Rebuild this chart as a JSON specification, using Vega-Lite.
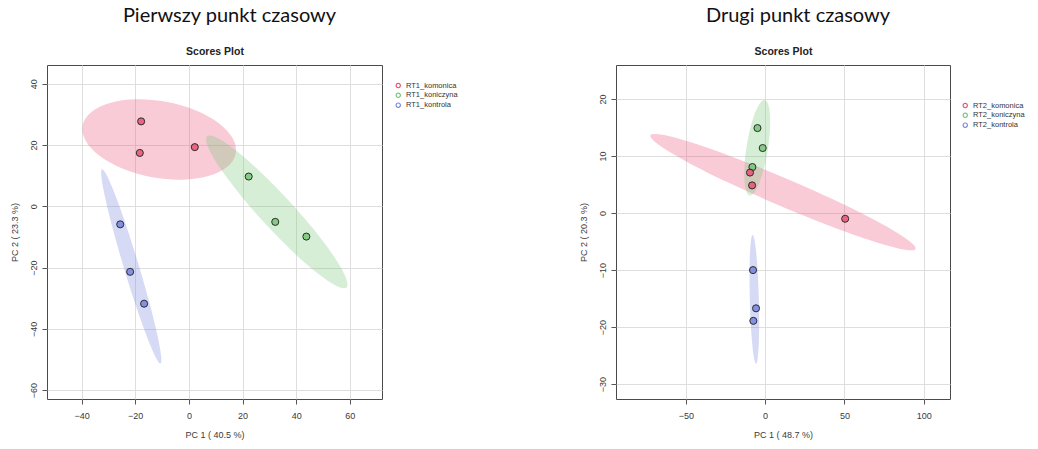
{
  "$schema": "https://vega.github.io/schema/vega-lite/v6.json",
  "background": "white",
  "padding": {"left": 9, "top": 5, "right": 0, "bottom": 0},
  "datasets": {
    "ell1": [
      {"g":"RT1_komonica","i":0,"x":17.48,"y":17.23},{"g":"RT1_komonica","i":1,"x":16.29,"y":22.29},{"g":"RT1_komonica","i":2,"x":10.94,"y":27.28},{"g":"RT1_komonica","i":3,"x":2.23,"y":31.43},
      {"g":"RT1_komonica","i":4,"x":-8.5,"y":34.11},{"g":"RT1_komonica","i":5,"x":-19.62,"y":34.92},{"g":"RT1_komonica","i":6,"x":-29.44,"y":33.73},{"g":"RT1_komonica","i":7,"x":-36.46,"y":30.72},
      {"g":"RT1_komonica","i":8,"x":-39.62,"y":26.35},{"g":"RT1_komonica","i":9,"x":-38.43,"y":21.29},{"g":"RT1_komonica","i":10,"x":-33.08,"y":16.3},{"g":"RT1_komonica","i":11,"x":-24.37,"y":12.15},
      {"g":"RT1_komonica","i":12,"x":-13.64,"y":9.47},{"g":"RT1_komonica","i":13,"x":-2.52,"y":8.66},{"g":"RT1_komonica","i":14,"x":7.3,"y":9.86},{"g":"RT1_komonica","i":15,"x":14.32,"y":12.86},
      {"g":"RT1_koniczyna","i":0,"x":58.77,"y":-26.53},{"g":"RT1_koniczyna","i":1,"x":58.52,"y":-23.26},{"g":"RT1_koniczyna","i":2,"x":54.34,"y":-16.72},{"g":"RT1_koniczyna","i":3,"x":46.89,"y":-7.92},
      {"g":"RT1_koniczyna","i":4,"x":37.28,"y":1.8},{"g":"RT1_koniczyna","i":5,"x":26.99,"y":10.97},{"g":"RT1_koniczyna","i":6,"x":17.57,"y":18.18},{"g":"RT1_koniczyna","i":7,"x":10.48,"y":22.35},
      {"g":"RT1_koniczyna","i":8,"x":6.77,"y":22.83},{"g":"RT1_koniczyna","i":9,"x":7.02,"y":19.56},{"g":"RT1_koniczyna","i":10,"x":11.2,"y":13.02},{"g":"RT1_koniczyna","i":11,"x":18.65,"y":4.22},
      {"g":"RT1_koniczyna","i":12,"x":28.26,"y":-5.5},{"g":"RT1_koniczyna","i":13,"x":38.55,"y":-14.67},{"g":"RT1_koniczyna","i":14,"x":47.97,"y":-21.88},{"g":"RT1_koniczyna","i":15,"x":55.07,"y":-26.05},
      {"g":"RT1_kontrola","i":0,"x":-10.58,"y":-51.34},{"g":"RT1_kontrola","i":1,"x":-10.38,"y":-48.66},{"g":"RT1_kontrola","i":2,"x":-11.88,"y":-41.55},{"g":"RT1_kontrola","i":3,"x":-14.83,"y":-31.11},
      {"g":"RT1_kontrola","i":4,"x":-18.8,"y":-18.92},{"g":"RT1_kontrola","i":5,"x":-23.18,"y":-6.83},{"g":"RT1_kontrola","i":6,"x":-27.29,"y":3.3},{"g":"RT1_kontrola","i":7,"x":-30.52,"y":9.95},
      {"g":"RT1_kontrola","i":8,"x":-32.38,"y":12.1},{"g":"RT1_kontrola","i":9,"x":-32.58,"y":9.42},{"g":"RT1_kontrola","i":10,"x":-31.08,"y":2.31},{"g":"RT1_kontrola","i":11,"x":-28.13,"y":-8.13},
      {"g":"RT1_kontrola","i":12,"x":-24.16,"y":-20.32},{"g":"RT1_kontrola","i":13,"x":-19.79,"y":-32.41},{"g":"RT1_kontrola","i":14,"x":-15.67,"y":-42.54},{"g":"RT1_kontrola","i":15,"x":-12.44,"y":-49.19}
    ],
    "pts1": [
      {"g":"RT1_komonica","x":-17.8,"y":27.7},{"g":"RT1_komonica","x":-18.3,"y":17.4},{"g":"RT1_komonica","x":2.2,"y":19.3},
      {"g":"RT1_koniczyna","x":22.3,"y":9.7},{"g":"RT1_koniczyna","x":32.2,"y":-5.1},{"g":"RT1_koniczyna","x":43.8,"y":-9.9},
      {"g":"RT1_kontrola","x":-25.6,"y":-5.9},{"g":"RT1_kontrola","x":-21.9,"y":-21.4},{"g":"RT1_kontrola","x":-16.7,"y":-31.8}
    ],
    "ell2": [
      {"g":"RT2_komonica","i":0,"x":94.91,"y":-6.28},{"g":"RT2_komonica","i":1,"x":89.86,"y":-4.67},{"g":"RT2_komonica","i":2,"x":72.84,"y":-1.79},{"g":"RT2_komonica","i":3,"x":46.45,"y":1.92},
      {"g":"RT2_komonica","i":4,"x":14.71,"y":5.9},{"g":"RT2_komonica","i":5,"x":-17.56,"y":9.54},{"g":"RT2_komonica","i":6,"x":-45.43,"y":12.29},{"g":"RT2_komonica","i":7,"x":-64.67,"y":13.73},
      {"g":"RT2_komonica","i":8,"x":-72.35,"y":13.64},{"g":"RT2_komonica","i":9,"x":-67.3,"y":12.03},{"g":"RT2_komonica","i":10,"x":-50.28,"y":9.15},{"g":"RT2_komonica","i":11,"x":-23.89,"y":5.44},
      {"g":"RT2_komonica","i":12,"x":7.85,"y":1.46},{"g":"RT2_komonica","i":13,"x":40.12,"y":-2.18},{"g":"RT2_komonica","i":14,"x":67.99,"y":-4.93},{"g":"RT2_komonica","i":15,"x":87.23,"y":-6.37},
      {"g":"RT2_koniczyna","i":0,"x":-0.21,"y":19.83},{"g":"RT2_koniczyna","i":1,"x":1.98,"y":19.08},{"g":"RT2_koniczyna","i":2,"x":3.12,"y":17.17},{"g":"RT2_koniczyna","i":3,"x":3.03,"y":14.39},
      {"g":"RT2_koniczyna","i":4,"x":1.73,"y":11.16},{"g":"RT2_koniczyna","i":5,"x":-0.59,"y":7.98},{"g":"RT2_koniczyna","i":6,"x":-3.57,"y":5.32},{"g":"RT2_koniczyna","i":7,"x":-6.76,"y":3.6},
      {"g":"RT2_koniczyna","i":8,"x":-9.67,"y":3.07},{"g":"RT2_koniczyna","i":9,"x":-11.86,"y":3.82},{"g":"RT2_koniczyna","i":10,"x":-13.0,"y":5.73},{"g":"RT2_koniczyna","i":11,"x":-12.91,"y":8.51},
      {"g":"RT2_koniczyna","i":12,"x":-11.61,"y":11.74},{"g":"RT2_koniczyna","i":13,"x":-9.29,"y":14.93},{"g":"RT2_koniczyna","i":14,"x":-6.31,"y":17.58},{"g":"RT2_koniczyna","i":15,"x":-3.12,"y":19.3},
      {"g":"RT2_kontrola","i":0,"x":-5.7,"y":-26.42},{"g":"RT2_kontrola","i":1,"x":-4.69,"y":-25.55},{"g":"RT2_kontrola","i":2,"x":-4.01,"y":-23.1},{"g":"RT2_kontrola","i":3,"x":-3.74,"y":-19.44},
      {"g":"RT2_kontrola","i":4,"x":-3.93,"y":-15.12},{"g":"RT2_kontrola","i":5,"x":-4.56,"y":-10.81},{"g":"RT2_kontrola","i":6,"x":-5.52,"y":-7.15},{"g":"RT2_kontrola","i":7,"x":-6.67,"y":-4.71},
      {"g":"RT2_kontrola","i":8,"x":-7.84,"y":-3.86},{"g":"RT2_kontrola","i":9,"x":-8.85,"y":-4.73},{"g":"RT2_kontrola","i":10,"x":-9.54,"y":-7.18},{"g":"RT2_kontrola","i":11,"x":-9.8,"y":-10.84},
      {"g":"RT2_kontrola","i":12,"x":-9.61,"y":-15.16},{"g":"RT2_kontrola","i":13,"x":-8.99,"y":-19.48},{"g":"RT2_kontrola","i":14,"x":-8.02,"y":-23.13},{"g":"RT2_kontrola","i":15,"x":-6.87,"y":-25.57}
    ],
    "pts2": [
      {"g":"RT2_koniczyna","x":-4.8,"y":14.9},{"g":"RT2_koniczyna","x":-1.5,"y":11.4},{"g":"RT2_koniczyna","x":-8.0,"y":8.07},
      {"g":"RT2_kontrola","x":-7.6,"y":-10.0},{"g":"RT2_kontrola","x":-5.7,"y":-16.7},{"g":"RT2_kontrola","x":-7.4,"y":-18.9},
      {"g":"RT2_komonica","x":-9.5,"y":7.1},{"g":"RT2_komonica","x":-8.2,"y":4.85},{"g":"RT2_komonica","x":50.5,"y":-1.0}
    ]
  },
  "hconcat": [
    {
      "name": "L",
      "width": 335,
      "height": 334,
      "title": {"text": "Pierwszy punkt czasowy", "dx": 15},
      "layer": [
        {
          "data": {"name": "ell1"},
          "mark": {"type": "line", "interpolate": "cardinal-closed", "strokeOpacity": 0, "fillOpacity": 0.3},
          "encoding": {
            "x": {"field": "x", "type": "quantitative", "scale": {"domain": [-52.9, 72], "nice": false, "zero": false},
                  "axis": {"orient": "bottom", "values": [-40, -20, 0, 20, 40, 60], "title": "PC 1 ( 40.5 %)", "labelPadding": 7, "titlePadding": 10}},
            "y": {"field": "y", "type": "quantitative", "scale": {"domain": [-62.9, 46.1], "nice": false, "zero": false},
                  "axis": {"orient": "left", "values": [-60, -40, -20, 0, 20, 40], "title": "PC 2 ( 23.3 %)", "labelAngle": -90, "labelAlign": "center", "labelBaseline": "alphabetic", "labelPadding": 6, "titlePadding": 10}},
            "order": {"field": "i", "type": "quantitative"},
            "fill": {"field": "g", "type": "nominal", "scale": {"domain": ["RT1_komonica", "RT1_koniczyna", "RT1_kontrola"], "range": ["#E85276", "#76C676", "#7684DE"]},
                     "legend": {"title": null, "orient": "none", "legendX": 347.5, "legendY": 16.8, "symbolType": "M -1 0 A 1 1 0 1 0 1 0 A 1 1 0 1 0 -1 0 Z M -0.58 0 A 0.58 0.58 0 1 1 0.58 0 A 0.58 0.58 0 1 1 -0.58 0 Z", "symbolSize": 30, "symbolStrokeWidth": 0, "symbolOpacity": 1, "labelFontSize": 7.5, "labelColor": "#333", "labelOffset": 4, "rowPadding": 0.8, "padding": 0}}
          }
        },
        {
          "data": {"name": "pts1"},
          "mark": {"type": "point", "shape": "circle", "filled": true, "size": 50, "stroke": "#2b2b2b", "strokeWidth": 1, "fillOpacity": 0.85, "opacity": 1},
          "encoding": {
            "x": {"field": "x", "type": "quantitative", "scale": {"domain": [-52.9, 72], "nice": false, "zero": false},
                  "axis": {"orient": "top", "title": "Scores Plot", "labels": false, "ticks": false, "domain": false, "grid": false, "titleFontWeight": "bold", "titleFontSize": 10.5, "titleColor": "#222", "titlePadding": 11, "titleBaseline": "alphabetic"}},
            "y": {"field": "y", "type": "quantitative", "scale": {"domain": [-62.9, 46.1], "nice": false, "zero": false},
                  "axis": {"orient": "left", "values": [-60, -40, -20, 0, 20, 40], "title": "PC 2 ( 23.3 %)", "labelAngle": -90, "labelAlign": "center", "labelBaseline": "alphabetic", "labelPadding": 6, "titlePadding": 10}},
            "fill": {"field": "g", "type": "nominal", "scale": {"domain": ["RT1_komonica", "RT1_koniczyna", "RT1_kontrola"], "range": ["#E85276", "#76C676", "#7684DE"]},
                     "legend": {"title": null, "orient": "none", "legendX": 347.5, "legendY": 16.8, "symbolType": "M -1 0 A 1 1 0 1 0 1 0 A 1 1 0 1 0 -1 0 Z M -0.58 0 A 0.58 0.58 0 1 1 0.58 0 A 0.58 0.58 0 1 1 -0.58 0 Z", "symbolSize": 30, "symbolStrokeWidth": 0, "symbolOpacity": 1, "labelFontSize": 7.5, "labelColor": "#333", "labelOffset": 4, "rowPadding": 0.8, "padding": 0}}
          }
        }
      ]
    },
    {
      "name": "R",
      "width": 334,
      "height": 334,
      "title": {"text": "Drugi punkt czasowy", "dx": 15},
      "layer": [
        {
          "data": {"name": "ell2"},
          "mark": {"type": "line", "interpolate": "cardinal-closed", "strokeOpacity": 0, "fillOpacity": 0.3},
          "encoding": {
            "x": {"field": "x", "type": "quantitative", "scale": {"domain": [-94, 116.6], "nice": false, "zero": false},
                  "axis": {"orient": "bottom", "values": [-50, 0, 50, 100], "title": "PC 1 ( 48.7 %)", "labelPadding": 7, "titlePadding": 10}},
            "y": {"field": "y", "type": "quantitative", "scale": {"domain": [-32.6, 25.96], "nice": false, "zero": false},
                  "axis": {"orient": "left", "values": [-30, -20, -10, 0, 10, 20], "title": "PC 2 ( 20.3 %)", "labelAngle": -90, "labelAlign": "center", "labelBaseline": "alphabetic", "labelPadding": 6, "titlePadding": 10}},
            "order": {"field": "i", "type": "quantitative"},
            "fill": {"field": "g", "type": "nominal", "scale": {"domain": ["RT2_komonica", "RT2_koniczyna", "RT2_kontrola"], "range": ["#E85276", "#76C676", "#7684DE"]},
                     "legend": {"title": null, "orient": "none", "legendX": 345.5, "legendY": 36.8, "symbolType": "M -1 0 A 1 1 0 1 0 1 0 A 1 1 0 1 0 -1 0 Z M -0.58 0 A 0.58 0.58 0 1 1 0.58 0 A 0.58 0.58 0 1 1 -0.58 0 Z", "symbolSize": 30, "symbolStrokeWidth": 0, "symbolOpacity": 1, "labelFontSize": 7.5, "labelColor": "#333", "labelOffset": 4, "rowPadding": 0.8, "padding": 0}}
          }
        },
        {
          "data": {"name": "pts2"},
          "mark": {"type": "point", "shape": "circle", "filled": true, "size": 50, "stroke": "#2b2b2b", "strokeWidth": 1, "fillOpacity": 0.85, "opacity": 1},
          "encoding": {
            "x": {"field": "x", "type": "quantitative", "scale": {"domain": [-94, 116.6], "nice": false, "zero": false},
                  "axis": {"orient": "top", "title": "Scores Plot", "labels": false, "ticks": false, "domain": false, "grid": false, "titleFontWeight": "bold", "titleFontSize": 10.5, "titleColor": "#222", "titlePadding": 11, "titleBaseline": "alphabetic"}},
            "y": {"field": "y", "type": "quantitative", "scale": {"domain": [-32.6, 25.96], "nice": false, "zero": false},
                  "axis": {"orient": "left", "values": [-30, -20, -10, 0, 10, 20], "title": "PC 2 ( 20.3 %)", "labelAngle": -90, "labelAlign": "center", "labelBaseline": "alphabetic", "labelPadding": 6, "titlePadding": 10}},
            "fill": {"field": "g", "type": "nominal", "scale": {"domain": ["RT2_komonica", "RT2_koniczyna", "RT2_kontrola"], "range": ["#E85276", "#76C676", "#7684DE"]},
                     "legend": {"title": null, "orient": "none", "legendX": 345.5, "legendY": 36.8, "symbolType": "M -1 0 A 1 1 0 1 0 1 0 A 1 1 0 1 0 -1 0 Z M -0.58 0 A 0.58 0.58 0 1 1 0.58 0 A 0.58 0.58 0 1 1 -0.58 0 Z", "symbolSize": 30, "symbolStrokeWidth": 0, "symbolOpacity": 1, "labelFontSize": 7.5, "labelColor": "#333", "labelOffset": 4, "rowPadding": 0.8, "padding": 0}}
          }
        }
      ]
    }
  ],
  "spacing": 234,
  "bounds": "flush",
  "resolve": {"scale": {"fill": "independent", "x": "independent", "y": "independent"}, "legend": {"fill": "independent"}},
  "config": {
    "font": "Liberation Sans",
    "view": {"stroke": "#4a4a4a", "strokeWidth": 1},
    "title": {"font": "Lato", "fontSize": 20, "fontWeight": "normal", "color": "#111", "anchor": "middle", "frame": "group", "baseline": "alphabetic", "offset": 20},
    "axis": {"grid": true, "gridColor": "#dedede", "gridWidth": 1, "domain": false, "tickColor": "#555", "tickSize": 5, "labelFont": "Liberation Sans", "labelFontSize": 9, "labelColor": "#3a3a3a", "titleFont": "Liberation Sans", "titleFontSize": 9, "titleFontWeight": "normal", "titleColor": "#3a3a3a"},
    "legend": {"labelFont": "Liberation Sans"}
  }
}
